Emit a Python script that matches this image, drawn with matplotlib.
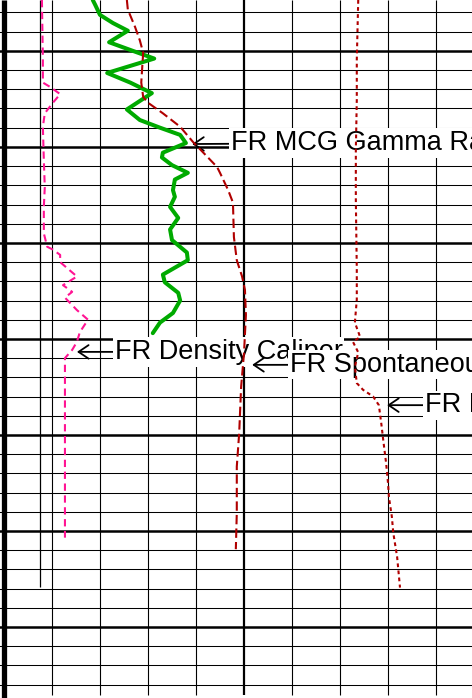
import numpy as np
import matplotlib
matplotlib.use("Agg")
import matplotlib.pyplot as plt

plt.rcParams['font.family'] = ['Liberation Sans', 'DejaVu Sans']

# depth window (ft) and track scale (0-100, ten divisions)
DEPTH_TOP = 4994.7
DEPTH_BOTTOM = 5067.4
GRID_BOTTOM = 5067.1
TRACK_LEFT = -0.73
TRACK_RIGHT = 97.6

# FR Density Caliper
cal_depth = [4994.7, 5000.9, 5003.3, 5003.75, 5004.5, 5005.4, 5006.5, 5007.9, 5011.35,
             5014.2, 5016.25, 5019.0, 5020.4, 5020.7, 5021.25, 5022.0, 5023.5, 5024.4,
             5025.1, 5025.7, 5027.0, 5028.0, 5029.3, 5030.3, 5031.15, 5032.0, 5036.0, 5050.7]
cal_value = [8.0, 8.2, 8.2, 9.7, 11.8, 10.3, 8.6, 8.2, 8.4,
             8.6, 8.4, 8.4, 9.1, 10.3, 11.8, 11.8, 15.3, 12.4,
             14.3, 12.8, 15.3, 17.6, 15.9, 15.3, 14.3, 12.8, 12.8, 12.8]

# FR MCG Gamma Ray
gr_depth = [4994.7, 4995.2, 4996.25, 4997.1, 4997.9, 4999.1, 4999.9, 5000.8, 5002.3,
            5003.3, 5004.4, 5006.1, 5007.2, 5008.0, 5008.75, 5009.6, 5010.6, 5011.1,
            5011.9, 5012.7, 5013.4, 5014.5, 5015.2, 5016.25, 5017.4, 5018.6, 5019.7,
            5021.0, 5021.8, 5023.3, 5024.1, 5025.2, 5026.0, 5027.3, 5028.3, 5029.4]
gr_value = [18.6, 19.1, 20.1, 22.8, 25.9, 22.0, 26.4, 31.4, 21.6,
            26.4, 30.9, 25.7, 28.4, 32.6, 36.8, 38.0, 33.2, 33.0,
            35.1, 38.4, 35.7, 35.3, 35.7, 34.7, 36.4, 34.7, 35.1,
            38.2, 38.4, 33.2, 33.6, 36.4, 36.8, 35.3, 32.6, 31.1]

# FR Spontaneous Potential
sp_depth = [4994.7, 4995.7, 4997.5, 4998.9, 5000.2, 5001.7, 5003.3, 5004.8, 5005.4,
            5006.5, 5007.9, 5009.5, 5011.0, 5012.1, 5012.7, 5014.5, 5015.8, 5019.4,
            5021.8, 5023.5, 5024.9, 5027.5, 5031.5, 5035.0, 5039.8, 5043.3, 5048.1, 5051.9]
sp_value = [25.7, 25.9, 27.4, 28.4, 29.1, 28.9, 28.7, 29.1, 30.1,
            33.2, 36.8, 39.5, 42.4, 44.5, 45.1, 46.8, 47.8, 48.0,
            48.6, 49.7, 50.3, 50.5, 50.1, 49.5, 49.1, 48.6, 48.6, 48.4]

# FR Deep Resistivity
res_depth = [4994.7, 5000.9, 5005.1, 5010.3, 5015.5, 5022.8, 5025.9, 5028.3, 5029.8,
             5030.3, 5031.4, 5032.9, 5034.6, 5035.3, 5036.0, 5036.9, 5038.8, 5040.5,
             5042.9, 5045.0, 5046.5, 5048.5, 5050.2, 5052.7, 5055.9]
res_value = [73.9, 73.6, 73.6, 73.4, 73.4, 73.6, 73.6, 73.2, 74.3,
             72.8, 73.9, 73.2, 73.6, 74.9, 77.0, 78.2, 78.7, 79.1,
             79.7, 80.1, 80.3, 80.9, 81.2, 82.0, 82.6]

# curve labels: text, arrow tip (value, depth), text start (value, depth)
label_text = ["FR MCG Gamma Ray", "FR Density Caliper",
              "FR Spontaneous Potential", "FR Deep Resistivity"]
label_tip = [(39.3, 5009.7), (15.3, 5031.35), (51.8, 5032.7), (79.9, 5036.9)]
label_pos = [(47.4, 5009.6), (23.2, 5031.35), (59.7, 5032.7), (87.8, 5036.9)]

fig = plt.figure(figsize=(4.72, 6.98), dpi=100)
ax = fig.add_axes([0, 0, 1, 1])
ax.set_xlim(TRACK_LEFT, TRACK_RIGHT)
ax.set_ylim(DEPTH_BOTTOM, DEPTH_TOP)
ax.axis('off')

# depth grid: 2 ft minor, 10 ft major
for d in np.arange(4996, 5067, 2):
    heavy = d % 10 == 0
    ax.axhline(d, color='black', lw=1.8 if heavy else 0.75, zorder=1)

# track grid: ten divisions, heavy centre line
for v in np.arange(10, 100, 10):
    ax.vlines(v, DEPTH_TOP, GRID_BOTTOM, color='black',
              lw=1.6 if v == 50 else 0.8, zorder=1)
ax.vlines(7.6, DEPTH_TOP, 5055.8, color='black', lw=0.9, zorder=1)
ax.vlines(0, DEPTH_TOP, DEPTH_BOTTOM, color='black', lw=3.8, zorder=2)

for text, tip, pos in zip(label_text, label_tip, label_pos):
    ax.annotate(text, xy=tip, xytext=pos, fontsize=19.5, ha='left', va='center',
                color='black', annotation_clip=False, zorder=3,
                bbox=dict(boxstyle='square,pad=0.06', fc='white', ec='none'),
                arrowprops=dict(arrowstyle='->,head_length=0.37,head_width=0.25',
                                color='black', lw=1.3, shrinkA=0, shrinkB=0))

ax.plot(cal_value, cal_depth, color='#ff1493', lw=1.5, dashes=(3.5, 2.2), zorder=4)
ax.plot(gr_value, gr_depth, color='#00aa00', lw=2.9, solid_joinstyle='round',
        solid_capstyle='round', zorder=4)
ax.plot(sp_value, sp_depth, color='#b00000', lw=1.5, dashes=(4.5, 2), zorder=4)
ax.plot(res_value, res_depth, color='#b00000', lw=1.5, dashes=(1.8, 1.6), zorder=4)

fig.savefig("out.png", dpi=100)
